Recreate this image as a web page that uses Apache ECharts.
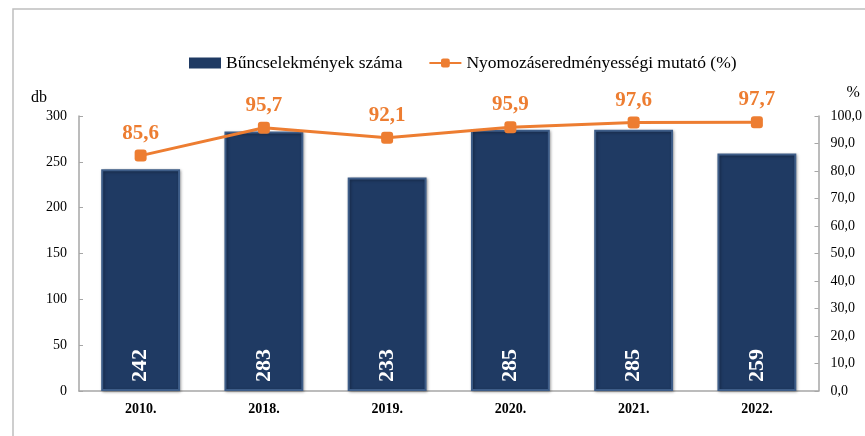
<!DOCTYPE html>
<html>
<head>
<meta charset="utf-8">
<script src="https://cdn.jsdelivr.net/npm/echarts@6/dist/echarts.min.js"></script>
<style>
  html, body { margin: 0; padding: 0; background: #fff; }
  #chart { width: 865px; height: 436px; }
</style>
</head>
<body>
<div id="chart"></div>
<script>
  // adatok
  var years = ['2010.', '2018.', '2019.', '2020.', '2021.', '2022.'];
  var crimes = [242, 283, 233, 285, 285, 259];
  var rate = [85.6, 95.7, 92.1, 95.9, 97.6, 97.7];
  var leftTicks = [0, 300, 50];
  var rightTicks = [0, 100, 10];

  var serif = 'Liberation Serif';
  var chart = echarts.init(document.getElementById('chart'));

  chart.setOption({
    animation: false,
    textStyle: { fontFamily: serif },
    graphic: [{
      type: 'polyline',
      shape: { points: [[13, 436], [13, 9], [865, 9]] },
      style: { stroke: '#bfbfbf', lineWidth: 1.5, fill: null }
    }],
    legend: {
      top: 49,
      left: 184,
      itemGap: 26,
      itemWidth: 32,
      itemHeight: 11,
      textStyle: { fontFamily: serif, fontSize: 17.5, color: '#000' },
      data: [
        { name: 'Bűncselekmények száma', icon: 'rect', itemStyle: { borderWidth: 0 } },
        { name: 'Nyomozáseredményességi mutató (%)' }
      ]
    },
    grid: { left: 79, right: 44, top: 116, bottom: 45 },
    xAxis: {
      type: 'category',
      data: years,
      axisLine: { lineStyle: { color: '#a6a6a6', width: 1.5 } },
      axisTick: { show: false },
      axisLabel: { color: '#000', fontWeight: 'bold', fontSize: 14, fontFamily: serif, margin: 11 }
    },
    yAxis: [{
      type: 'value',
      name: 'db',
      nameLocation: 'end',
      nameGap: 10,
      nameTextStyle: { color: '#000', fontSize: 16, fontFamily: serif, align: 'right', padding: [0, 32, 0, 0] },
      min: leftTicks[0], max: leftTicks[1], interval: leftTicks[2],
      splitLine: { show: false },
      axisLine: { show: true, lineStyle: { color: '#a6a6a6', width: 1.5 } },
      axisTick: { show: true, inside: true, length: 4, lineStyle: { color: '#a6a6a6' } },
      axisLabel: { color: '#000', fontSize: 14, fontFamily: serif, margin: 12 }
    }, {
      type: 'value',
      name: '%',
      nameLocation: 'end',
      nameGap: 15,
      nameTextStyle: { color: '#000', fontSize: 16, fontFamily: serif, align: 'left', padding: [0, 0, 0, 28] },
      min: rightTicks[0], max: rightTicks[1], interval: rightTicks[2],
      splitLine: { show: false },
      axisLine: { show: true, lineStyle: { color: '#a6a6a6', width: 1.5 } },
      axisTick: { show: true, inside: true, length: 4, lineStyle: { color: '#a6a6a6' } },
      axisLabel: {
        color: '#000', fontSize: 14, fontFamily: serif, margin: 12,
        formatter: function (v) { return v.toFixed(1).replace('.', ','); }
      }
    }],
    series: [{
      name: 'Bűncselekmények száma',
      type: 'bar',
      data: crimes,
      barWidth: '64%',
      itemStyle: {
        color: '#1f3a63',
        borderColor: '#3e5d88',
        borderWidth: 2,
        shadowColor: 'rgba(0,0,0,0.35)',
        shadowBlur: 3,
        shadowOffsetX: 1,
        shadowOffsetY: 1
      },
      label: {
        show: true,
        position: 'insideBottom',
        rotate: 90,
        align: 'left',
        verticalAlign: 'middle',
        distance: 9,
        color: '#fff',
        fontWeight: 'bold',
        fontSize: 22,
        fontFamily: serif
      }
    }, {
      name: 'Nyomozáseredményességi mutató (%)',
      type: 'line',
      yAxisIndex: 1,
      data: rate,
      symbol: 'roundRect',
      symbolSize: 12,
      color: '#ed7d31',
      lineStyle: { color: '#ed7d31', width: 3 },
      itemStyle: { color: '#ed7d31' },
      label: {
        show: true,
        position: 'top',
        distance: 6,
        color: '#ed7d31',
        fontWeight: 'bold',
        fontSize: 21,
        fontFamily: serif,
        formatter: function (p) { return p.value.toFixed(1).replace('.', ','); }
      }
    }]
  });
</script>
</body>
</html>
